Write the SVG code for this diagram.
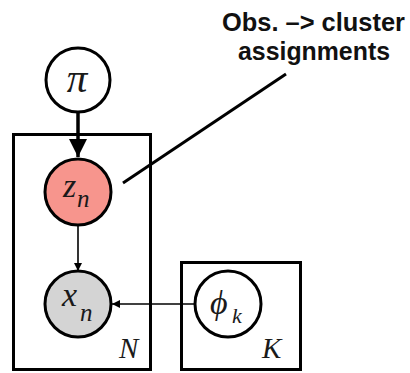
<svg xmlns="http://www.w3.org/2000/svg" width="410" height="373" viewBox="0 0 410 373">
<style>
.plate{fill:none;stroke:#000;stroke-width:3}
.node{stroke:#000;stroke-width:3}
.m{font-family:"Liberation Serif","DejaVu Serif",serif;font-style:italic;fill:#1a1a1a}
.lbl{font-family:"Liberation Sans",Arial,sans-serif;font-weight:bold;font-size:26px;fill:#111}
</style>
<defs>
<marker id="big" markerUnits="userSpaceOnUse" viewBox="0 0 18 18" refX="18" refY="9" markerWidth="18" markerHeight="18" orient="auto"><path d="M0,0 L18,9 L0,18 Z" fill="#000"/></marker>
<marker id="small" markerUnits="userSpaceOnUse" viewBox="0 0 8 8" refX="8" refY="4" markerWidth="8" markerHeight="8" orient="auto"><path d="M0,0 L8,4 L0,8 Z" fill="#000"/></marker>
</defs>
<g id="plate-N"><rect class="plate" x="13.5" y="134.5" width="137" height="235"/><text class="m" x="119" y="358" font-size="29">N</text></g>
<g id="plate-K"><rect class="plate" x="181.5" y="262.5" width="119" height="107"/><text class="m" x="262" y="358" font-size="29">K</text></g>
<g id="connectors" stroke="#000" fill="none">
<line x1="78" y1="113" x2="78" y2="157" stroke-width="3.5" marker-end="url(#big)"/>
<line x1="78" y1="226" x2="78" y2="271" stroke-width="1.6" marker-end="url(#small)"/>
<line x1="195" y1="304" x2="112" y2="304" stroke-width="1.6" marker-end="url(#small)"/>
<line x1="123" y1="183" x2="286" y2="74" stroke-width="3"/>
</g>
<g id="node-pi"><circle class="node" cx="78" cy="80" r="32" fill="#fff"/><text class="m" x="77" y="92" font-size="41" text-anchor="middle">π</text></g>
<g id="node-z"><circle class="node" cx="78" cy="192" r="33" fill="#f7958d"/><text class="m" x="63" y="197" font-size="34">z</text><text class="m" x="77" y="207" font-size="25">n</text></g>
<g id="node-x"><circle class="node" cx="78" cy="304" r="33" fill="#d4d4d4"/><text class="m" x="62" y="306" font-size="34">x</text><text class="m" x="80" y="321" font-size="25">n</text></g>
<g id="node-phi"><circle class="node" cx="228" cy="304" r="33" fill="#fff"/><text class="m" x="210" y="314" font-size="34">ϕ</text><text class="m" x="232" y="323" font-size="22">k</text></g>
<g id="annotation"><text class="lbl" x="222" y="31" textLength="183" lengthAdjust="spacingAndGlyphs">Obs. –&gt; cluster</text><text class="lbl" x="238" y="60" textLength="152" lengthAdjust="spacingAndGlyphs">assignments</text></g>
</svg>
